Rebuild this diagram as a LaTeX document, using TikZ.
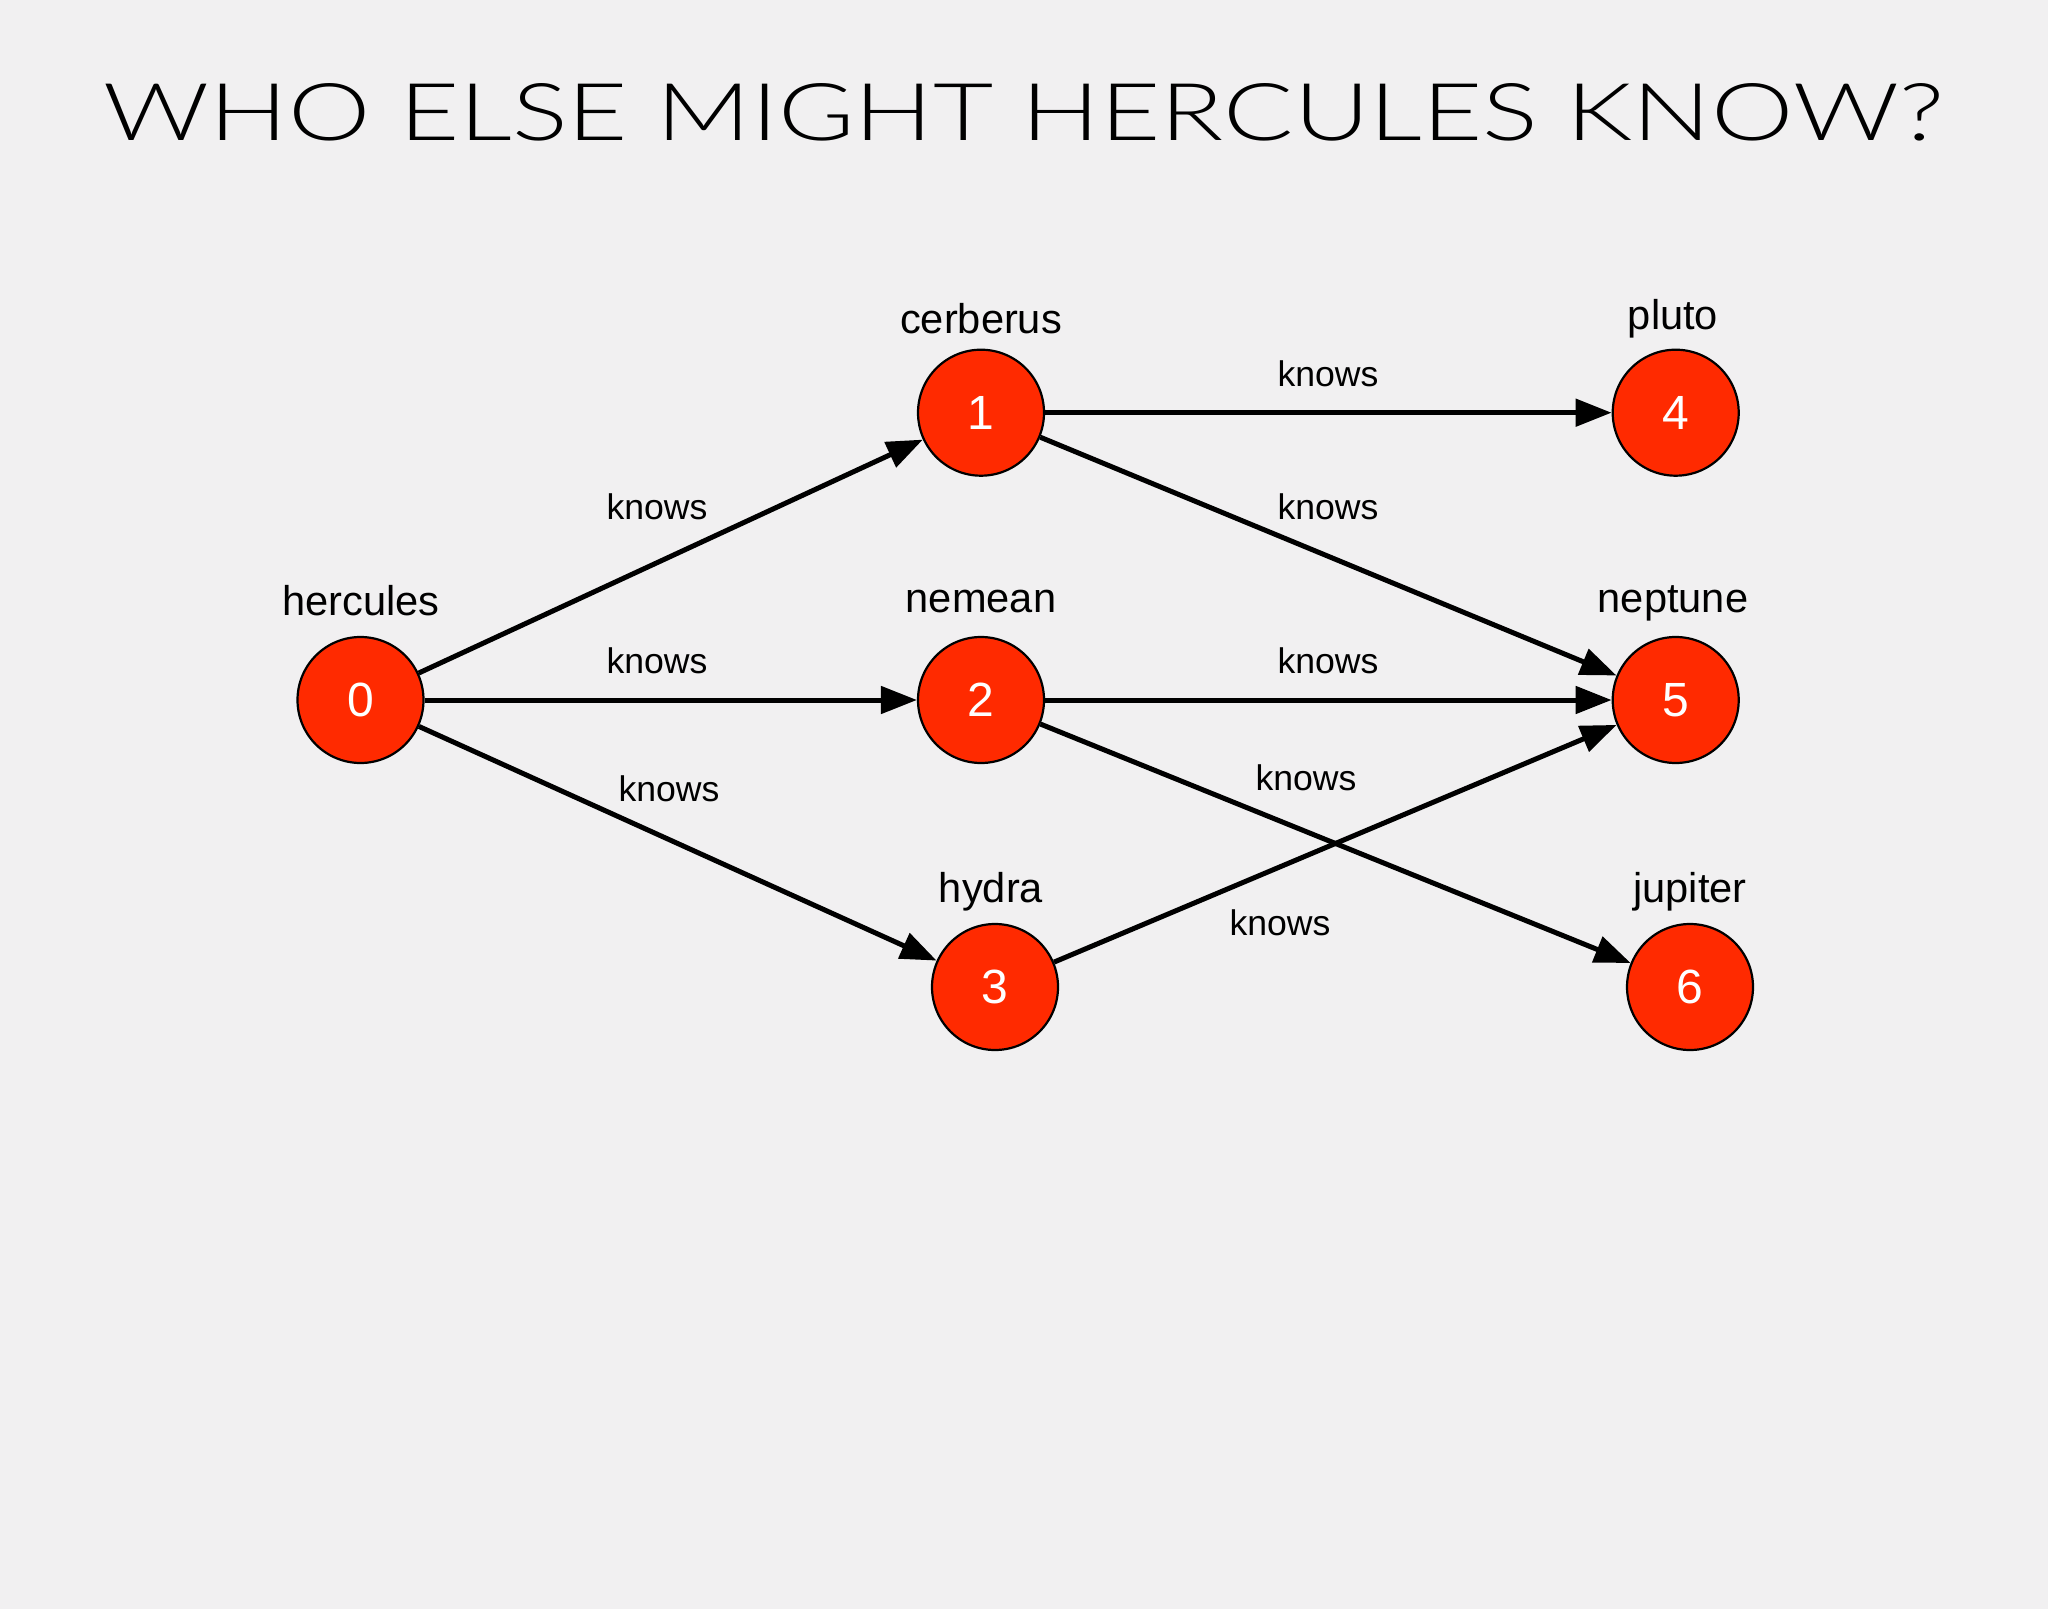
\documentclass[tikz,border=0pt]{standalone}
\usepackage{fontspec}
\setmainfont{Liberation Sans}
\newfontfamily\titlefont{Lato Light}
\usetikzlibrary{arrows.meta}
\definecolor{bgc}{RGB}{241,240,241}
\definecolor{nodered}{RGB}{255,42,0}
\begin{document}
\begin{tikzpicture}[x=0.5pt,y=-0.5pt,
  vert/.style={circle,draw=black,line width=1.1pt,fill=nodered,minimum size=63pt,inner sep=0pt,
    text=white,font=\fontsize{24}{26}\selectfont},
  vlabel/.style={font=\fontsize{20.8}{22}\selectfont,text=black,inner sep=0pt},
  elabel/.style={font=\fontsize{17.8}{19}\selectfont,text=black,inner sep=0pt},
  edge/.style={line width=2.5pt,-{Triangle[length=18pt,width=13.5pt]}}]
\fill[bgc] (0,0) rectangle (2048,1609);
\useasboundingbox (0,0) rectangle (2048,1609);
% title
\node[anchor=base,inner sep=0pt] (title) at (1024,141)
  {\resizebox{920pt}{28.5pt}{\titlefont WHO ELSE MIGHT HERCULES KNOW?}};
% vertices
\node[vert] (n0) at (360.5,700) {0};
\node[vert] (n1) at (981,412.7) {1};
\node[vert] (n2) at (981,700) {2};
\node[vert] (n3) at (995,987) {3};
\node[vert] (n4) at (1675.7,412.7) {4};
\node[vert] (n5) at (1675.7,700) {5};
\node[vert] (n6) at (1690,987) {6};
% vertex labels
\node[vlabel] (l0) at (361,601) {hercules};
\node[vlabel] (l1) at (981,319) {cerberus};
\node[vlabel] (l4) at (1673,319) {pluto};
\node[vlabel] (l2) at (981,602) {nemean};
\node[vlabel] (l5) at (1673,603) {neptune};
\node[vlabel] (l3) at (991,892) {hydra};
\node[vlabel] (l6) at (1690,892) {jupiter};
% edges
\draw[edge] (n0) -- (n1);
\draw[edge] (n0) -- (n2);
\draw[edge] (n0) -- (n3);
\draw[edge] (n1) -- (n4);
\draw[edge] (n1) -- (n5);
\draw[edge] (n2) -- (n5);
\draw[edge] (n2) -- (n6);
\draw[edge] (n3) -- (n5);
% edge labels
\node[elabel] (e01) at (657,507) {knows};
\node[elabel] (e02) at (657,661) {knows};
\node[elabel] (e03) at (669,789) {knows};
\node[elabel] (e14) at (1328,374) {knows};
\node[elabel] (e15) at (1328,507) {knows};
\node[elabel] (e25) at (1328,661) {knows};
\node[elabel] (e26) at (1306,778) {knows};
\node[elabel] (e35) at (1280,923) {knows};
\end{tikzpicture}
\end{document}
